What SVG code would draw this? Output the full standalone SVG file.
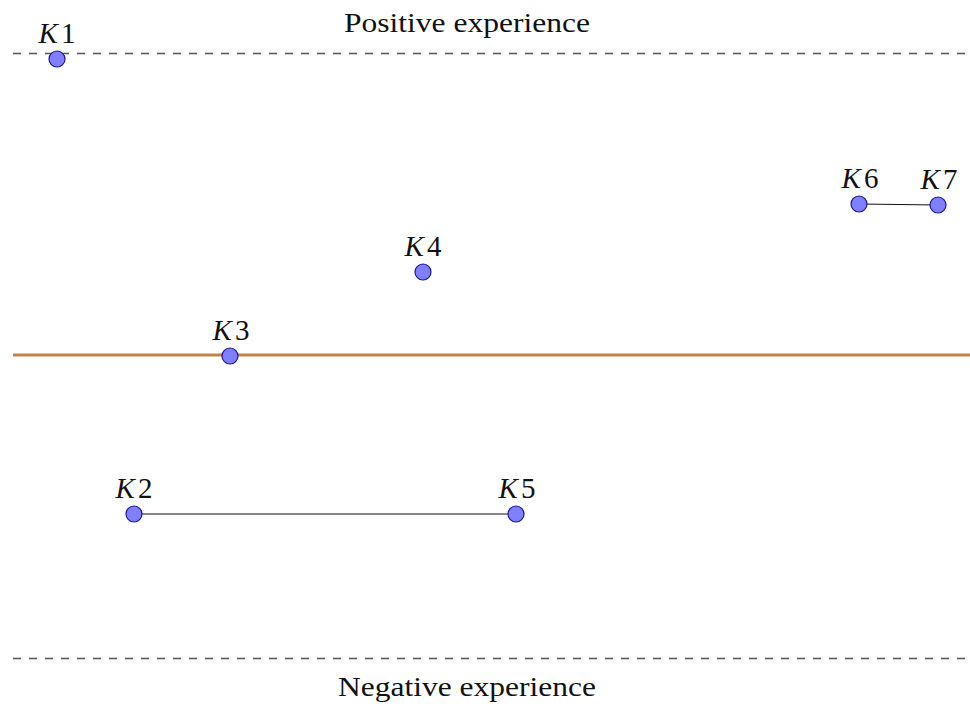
<svg xmlns="http://www.w3.org/2000/svg" width="970" height="704" viewBox="0 0 970 704">
<style>
.node circle{fill:#7f7fff;stroke:#1a1a8c;stroke-width:1.2}
.lbl{font-family:"Liberation Serif","DejaVu Serif",serif;font-size:29px;fill:#111;text-anchor:middle}
.lbl tspan.k{font-style:italic}
.title{font-family:"Liberation Serif","DejaVu Serif",serif;font-size:27px;fill:#111;text-anchor:middle}
.dash{stroke:#555;stroke-width:1.3;stroke-dasharray:8 8;fill:none}
.edge{stroke:#111;stroke-width:1.1}
</style>
<rect width="970" height="704" fill="#fff"/>
<g id="axes">
<line class="dash" x1="13" y1="53.5" x2="970" y2="53.5"/>
<line class="dash" x1="13" y1="658.5" x2="970" y2="658.5"/>
<line x1="13" y1="355" x2="970" y2="355" stroke="#c38445" stroke-width="3"/>
<text class="title" x="467" y="32" textLength="246" lengthAdjust="spacingAndGlyphs">Positive experience</text>
<text class="title" x="467" y="696" textLength="258" lengthAdjust="spacingAndGlyphs">Negative experience</text>
</g>
<g id="connectors">
<line class="edge" x1="134" y1="514" x2="516" y2="514"/>
<line class="edge" x1="859" y1="204" x2="938" y2="205"/>
</g>
<g id="K1" class="node"><circle cx="57" cy="59" r="8"/><text class="lbl" x="57" y="43" textLength="37"><tspan class="k">K</tspan>1</text></g>
<g id="K2" class="node"><circle cx="134" cy="514" r="8"/><text class="lbl" x="134" y="498" textLength="37"><tspan class="k">K</tspan>2</text></g>
<g id="K3" class="node"><circle cx="230" cy="356" r="8"/><text class="lbl" x="231" y="340" textLength="37"><tspan class="k">K</tspan>3</text></g>
<g id="K4" class="node"><circle cx="423" cy="272" r="8"/><text class="lbl" x="423" y="256" textLength="37"><tspan class="k">K</tspan>4</text></g>
<g id="K5" class="node"><circle cx="516" cy="514" r="8"/><text class="lbl" x="517" y="498" textLength="37"><tspan class="k">K</tspan>5</text></g>
<g id="K6" class="node"><circle cx="859" cy="204" r="8"/><text class="lbl" x="860" y="188" textLength="37"><tspan class="k">K</tspan>6</text></g>
<g id="K7" class="node"><circle cx="938" cy="205" r="8"/><text class="lbl" x="939" y="189" textLength="37"><tspan class="k">K</tspan>7</text></g>
</svg>
